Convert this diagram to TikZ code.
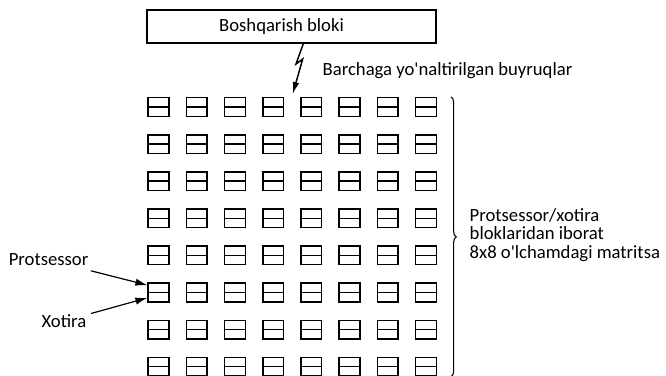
\documentclass[tikz,border=0pt]{standalone}
\usepackage{fontspec}
\setmainfont{Carlito}
\usetikzlibrary{calc, positioning}
\usetikzlibrary{arrows.meta}
\usetikzlibrary{decorations.pathreplacing}

\begin{document}
\begin{tikzpicture}[x=0.75pt, y=-0.75pt, font=\fontsize{14}{13.75}\selectfont]
\useasboundingbox (0,0) rectangle (666,375);
\tikzset{
  cell/.style={draw, line width=1.1pt, minimum width=15.5pt, minimum height=14pt, inner sep=0pt},
  ptr/.style={line width=0.9pt, -{Latex[length=9pt, width=5.5pt]}}
}
\def\colx{158.5}
\def\colstep{38.2}
\def\rowy{107}
\def\rowstep{37.1}

% control block
\node[draw, line width=1.1pt, minimum width=216.5pt, minimum height=24.75pt, inner sep=0pt,
  label={[xshift=-7.5pt]center:Boshqarish bloki}] (ctrl) at (291.5,26.5) {};

% 8x8 matrix
\foreach \r in {1,...,8}
  \foreach \c in {1,...,8} {
    \node[cell] (m-\r-\c) at ({\colx+(\c-1)*\colstep},{\rowy+(\r-1)*\rowstep}) {};
    \draw[line width=1.1pt] (m-\r-\c.west) -- (m-\r-\c.east);
  }

% broadcast bolt
\coordinate (Z0) at ($(ctrl.south)+(11.8,0)$);
\coordinate (Z1) at (296,64);
\coordinate (Z2) at (302.7,59);
\coordinate (Z3) at (292.7,94);
\draw[line width=1.1pt, -{Latex[length=9pt, width=5pt]}] (Z0) -- (Z1) -- (Z2) -- (Z3);
\node[anchor=west] (cmd) at (318,71) {Barchaga yo\textquotesingle naltirilgan buyruqlar};

% brace
\coordinate (B0) at ($(m-1-8.north east)+(14,0)$);
\coordinate (B1) at ($(m-8-8.south east)+(14,0)$);
\draw[line width=0.8pt, decorate, decoration={brace, amplitude=4pt}] (B0) -- (B1);
\node[anchor=west, align=left] (mtx) at (465,235)
  {Protsessor/xotira\\bloklaridan iborat\\8x8 o\textquotesingle lchamdagi matritsa};

% labels
\node[anchor=east] (cpu) at (93,260) {Protsessor};
\node[anchor=east] (mem) at (91,321) {Xotira};
\draw[ptr] (cpu) -- ([yshift=5.5pt]m-6-1.west);
\draw[ptr] (mem) -- ([yshift=-4pt]m-6-1.west);
\end{tikzpicture}
\end{document}
